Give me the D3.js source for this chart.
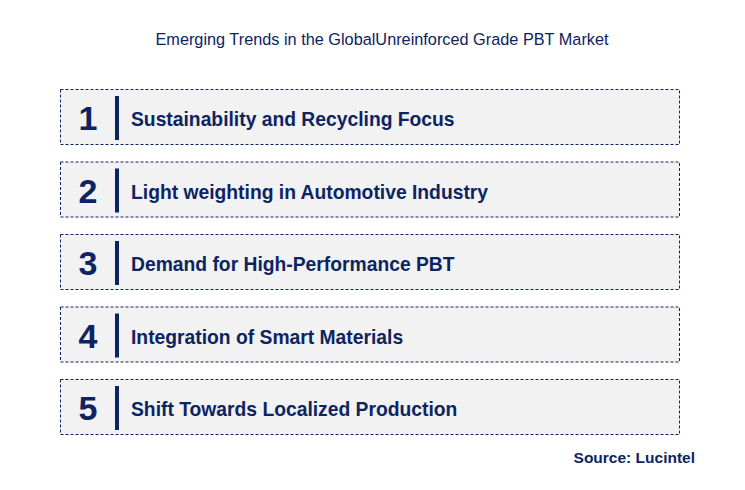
<!DOCTYPE html>
<html><head><meta charset="utf-8">
<script src="https://cdn.jsdelivr.net/npm/d3@7"></script>
<style>body{margin:0;background:#fff}</style>
</head><body>
<svg id="c" width="745" height="490"></svg>
<script>
const ranks = [1, 2, 3, 4, 5];
const trends = [
  "Sustainability and Recycling Focus",
  "Light weighting in Automotive Industry",
  "Demand for High-Performance PBT",
  "Integration of Smart Materials",
  "Shift Towards Localized Production"
];
const title = "Emerging Trends in the GlobalUnreinforced Grade PBT Market";
const source = "Source: Lucintel";

const navy = "#0c2461";
const svg = d3.select("#c");
const font = "Arial, 'Liberation Sans', sans-serif";
const y = d3.scaleLinear().domain([0, 4]).range([89, 379]);
const boxH = 55;

svg.append("text").attr("x", 382).attr("y", 45).attr("text-anchor", "middle")
  .attr("font-family", font).attr("font-size", 16.3).attr("fill", navy).text(title);

const g = svg.selectAll("g.item").data(trends).join("g").attr("class", "item")
  .attr("transform", (d, i) => `translate(0,${y(i)})`);
g.append("rect").attr("x", 60.5).attr("y", 0.5).attr("width", 619).attr("height", boxH)
  .attr("fill", "#f2f2f2").attr("stroke", navy).attr("stroke-width", 1).attr("stroke-dasharray", "3,2");
g.append("text").attr("x", 88).attr("y", 41).attr("text-anchor", "middle")
  .attr("font-family", font).attr("font-weight", "bold").attr("font-size", 34).attr("fill", navy)
  .text((d, i) => ranks[i]);
g.append("rect").attr("x", 115).attr("y", 7).attr("width", 4).attr("height", 44).attr("fill", navy);
g.append("text").attr("x", 131).attr("y", 37)
  .attr("font-family", font).attr("font-weight", "bold").attr("font-size", 19.3).attr("fill", navy)
  .text(d => d);

svg.append("text").attr("x", 695).attr("y", 463).attr("text-anchor", "end")
  .attr("font-family", font).attr("font-weight", "bold").attr("font-size", 15.5).attr("fill", navy).text(source);
</script>
</body></html>
